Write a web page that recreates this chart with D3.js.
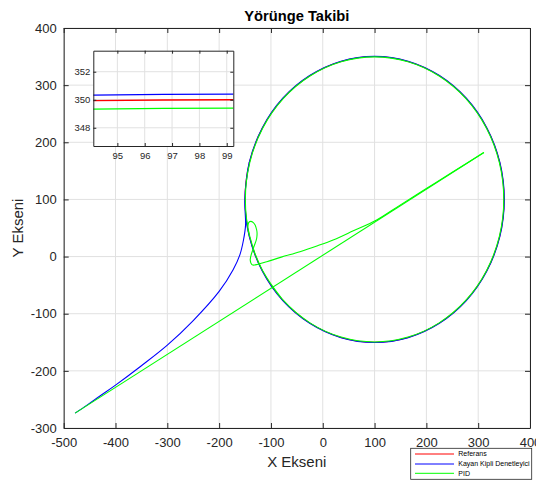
<!DOCTYPE html>
<html>
<head>
<meta charset="utf-8">
<script src="https://cdn.jsdelivr.net/npm/d3@7"></script>
<style>
  body { margin: 0; background: #fff; }
  text { font-family: "Liberation Sans", Arial, sans-serif; }
</style>
</head>
<body>
<div id="chart"></div>
<script>
// Tick labels
const xTicks = [-500, -400, -300, -200, -100, 0, 100, 200, 300, 400];
const yTicks = [-300, -200, -100, 0, 100, 200, 300, 400];
const insetXTicks = [95, 96, 97, 98, 99];
const insetYTicks = [348, 350, 352];

const seriesNames = ['Referans', 'Kayan Kipli Denetleyici', 'PID'];

// Reference circle (closed)
const refPath = [
  [350, 100], [341.5, 164.7], [316.5, 225], [276.8, 276.8], [225, 316.5], [164.7, 341.5],
  [100, 350], [35.3, 341.5], [-25, 316.5], [-76.8, 276.8], [-116.5, 225], [-141.5, 164.7],
  [-150, 100], [-141.5, 35.3], [-116.5, -25], [-76.8, -76.8], [-25, -116.5], [35.3, -141.5],
  [100, -150], [164.7, -141.5], [225, -116.5], [276.8, -76.8], [316.5, -25], [341.5, 35.3]
];

// Sliding mode controller trajectory
const smcPath = [
  [-478, -274], [-455, -260], [-430, -244], [-400, -225], [-350, -191], [-300, -155],
  [-250, -112], [-200, -61], [-173, -23], [-160, 3], [-153, 29], [-149, 55],
  [-150.4, 100], [-141.9, 164.8], [-116.8, 225.2], [-77.1, 277.1], [-25.2, 316.8], [35.2, 341.9],
  [100, 350.4], [164.8, 341.9], [225.2, 316.8], [277.1, 277.1], [316.8, 225.2], [341.9, 164.8],
  [350.4, 100], [341.9, 35.2], [316.8, -25.2], [277.1, -77.1], [225.2, -116.8], [164.8, -141.9],
  [100, -150.4], [35.2, -141.9], [-25.2, -116.8], [-77.1, -77.1], [-116.8, -25.2], [-141.9, 35.2],
  [-150.4, 100], [-141.9, 164.8]
];

// PID: initial jump, then return, loop and circle
const pidJump = [[-478, -274], [311, 182]];
const pidPath = [
  [311, 182], [250, 147.5], [200, 119], [150, 90.5], [104, 64], [59, 45], [20, 29],
  [-10, 19], [-44, 8.6], [-80, -1], [-108, -9], [-125, -13.5], [-136, -14.5], [-140, -6],
  [-134, 14.5], [-127.5, 32], [-127.5, 46.5], [-134, 59.5], [-141.5, 61], [-144.5, 49.5],
  [-138.5, 28], [-131, 5],
  [-116, -24.7], [-76.4, -76.4], [-24.7, -116], [35.5, -140.9], [100, -149.4], [164.5, -140.9],
  [224.7, -116], [276.4, -76.4], [316, -24.7], [340.9, 35.5], [349.4, 100], [340.9, 164.5],
  [316, 224.7], [276.4, 276.4], [224.7, 316], [164.5, 340.9], [100, 349.4], [35.5, 340.9],
  [-24.7, 316], [-76.4, 276.4], [-116, 224.7], [-140.9, 164.5], [-149.4, 100], [-140.9, 35.5],
  [-116, -24.7], [-76.4, -76.4]
];

const width = 536, height = 480;
const axisColor = '#262626', gridColor = '#e1e1e1';
const plain = d => String(d);

const svg = d3.select('#chart').append('svg')
  .attr('width', width)
  .attr('height', height);

const x = d3.scaleLinear().domain([-500, 400]).range([63.7, 530]);
const y = d3.scaleLinear().domain([-300, 400]).range([428, 28]);

// Grid
const grid = svg.append('g');
grid.selectAll('.gx').data(xTicks).enter().append('line')
  .attr('x1', d => x(d)).attr('x2', d => x(d))
  .attr('y1', y(-300)).attr('y2', y(400))
  .attr('stroke', gridColor).attr('stroke-width', 1);
grid.selectAll('.gy').data(yTicks).enter().append('line')
  .attr('x1', x(-500)).attr('x2', x(400))
  .attr('y1', d => y(d)).attr('y2', d => y(d))
  .attr('stroke', gridColor).attr('stroke-width', 1);

// Axes with inward ticks
function styleAxis(g, fontSize) {
  g.selectAll('path').attr('stroke', axisColor);
  g.selectAll('line').attr('stroke', axisColor);
  g.selectAll('text').attr('fill', axisColor).style('font-size', fontSize + 'px')
    .style('font-family', '"Liberation Sans", Arial, sans-serif');
}

svg.append('g').attr('transform', `translate(0,${y(-300)})`)
  .call(d3.axisBottom(x).tickValues(xTicks).tickFormat(plain).tickSize(-5).tickPadding(10).tickSizeOuter(0))
  .call(g => styleAxis(g, 13));
svg.append('g').attr('transform', `translate(0,${y(400)})`)
  .call(d3.axisTop(x).tickValues(xTicks).tickSize(-5).tickFormat('').tickSizeOuter(0))
  .call(g => styleAxis(g, 13));
svg.append('g').attr('transform', `translate(${x(-500)},0)`)
  .call(d3.axisLeft(y).tickValues(yTicks).tickFormat(plain).tickSize(-5).tickPadding(7).tickSizeOuter(0))
  .call(g => styleAxis(g, 13));
svg.append('g').attr('transform', `translate(${x(400)},0)`)
  .call(d3.axisRight(y).tickValues(yTicks).tickSize(-5).tickFormat('').tickSizeOuter(0))
  .call(g => styleAxis(g, 13));

// Line generators
const line = d3.line().x(d => x(d[0])).y(d => y(d[1])).curve(d3.curveCatmullRom);
const closedLine = d3.line().x(d => x(d[0])).y(d => y(d[1])).curve(d3.curveCatmullRomClosed);
const straight = d3.line().x(d => x(d[0])).y(d => y(d[1]));

const plot = svg.append('g');
plot.append('path').attr('d', closedLine(refPath))
  .attr('fill', 'none').attr('stroke', '#ff0000').attr('stroke-width', 1.1);
plot.append('path').attr('d', line(smcPath))
  .attr('fill', 'none').attr('stroke', '#0000ff').attr('stroke-width', 1.1);
plot.append('path').attr('d', straight(pidJump))
  .attr('fill', 'none').attr('stroke', '#00ff00').attr('stroke-width', 1.1);
plot.append('path').attr('d', line(pidPath))
  .attr('fill', 'none').attr('stroke', '#00ff00').attr('stroke-width', 1.1);

// Title and labels
svg.append('text').attr('x', 296.8).attr('y', 21)
  .attr('text-anchor', 'middle').style('font-size', '14.7px').style('font-weight', 'bold')
  .attr('fill', '#000').text('Yörünge Takibi');
svg.append('text').attr('x', 296.8).attr('y', 467)
  .attr('text-anchor', 'middle').style('font-size', '15px')
  .attr('fill', axisColor).text('X Ekseni');
svg.append('text').attr('transform', 'translate(22.5,228) rotate(-90)')
  .attr('text-anchor', 'middle').style('font-size', '15px')
  .attr('fill', axisColor).text('Y Ekseni');

// Inset zoom
const ix = d3.scaleLinear().domain([94.12, 99.24]).range([93.3, 233.3]);
const iy = d3.scaleLinear().domain([346.7, 353.5]).range([146, 50.7]);
const inset = svg.append('g');
inset.append('rect')
  .attr('x', ix.range()[0]).attr('y', iy.range()[1])
  .attr('width', ix.range()[1] - ix.range()[0]).attr('height', iy.range()[0] - iy.range()[1])
  .attr('fill', '#fff');
inset.selectAll('.igx').data(insetXTicks).enter().append('line')
  .attr('x1', d => ix(d)).attr('x2', d => ix(d))
  .attr('y1', iy.range()[0]).attr('y2', iy.range()[1])
  .attr('stroke', gridColor);
inset.selectAll('.igy').data(insetYTicks).enter().append('line')
  .attr('x1', ix.range()[0]).attr('x2', ix.range()[1])
  .attr('y1', d => iy(d)).attr('y2', d => iy(d))
  .attr('stroke', gridColor);

svg.append('clipPath').attr('id', 'insetClip').append('rect')
  .attr('x', ix.range()[0]).attr('y', iy.range()[1])
  .attr('width', ix.range()[1] - ix.range()[0]).attr('height', iy.range()[0] - iy.range()[1]);

const iline = d3.line().x(d => ix(d[0])).y(d => iy(d[1])).curve(d3.curveCatmullRom);
const iclosed = d3.line().x(d => ix(d[0])).y(d => iy(d[1])).curve(d3.curveCatmullRomClosed);
const ilines = inset.append('g').attr('clip-path', 'url(#insetClip)');
ilines.append('path').attr('d', iclosed(refPath))
  .attr('fill', 'none').attr('stroke', '#ff0000').attr('stroke-width', 1.3);
ilines.append('path').attr('d', iline(smcPath))
  .attr('fill', 'none').attr('stroke', '#0000ff').attr('stroke-width', 1.3);
ilines.append('path').attr('d', iline(pidPath))
  .attr('fill', 'none').attr('stroke', '#00ff00').attr('stroke-width', 1.3);

inset.append('g').attr('transform', `translate(0,${iy.range()[0]})`)
  .call(d3.axisBottom(ix).tickValues(insetXTicks).tickFormat(plain).tickSize(-3).tickPadding(6).tickSizeOuter(0))
  .call(g => styleAxis(g, 9.5));
inset.append('g').attr('transform', `translate(0,${iy.range()[1]})`)
  .call(d3.axisTop(ix).tickValues(insetXTicks).tickSize(-3).tickFormat('').tickSizeOuter(0))
  .call(g => styleAxis(g, 9.5));
inset.append('g').attr('transform', `translate(${ix.range()[0]},0)`)
  .call(d3.axisLeft(iy).tickValues(insetYTicks).tickFormat(plain).tickSize(-3).tickPadding(3).tickSizeOuter(0))
  .call(g => styleAxis(g, 9.5));
inset.append('g').attr('transform', `translate(${ix.range()[1]},0)`)
  .call(d3.axisRight(iy).tickValues(insetYTicks).tickSize(-3).tickFormat('').tickSizeOuter(0))
  .call(g => styleAxis(g, 9.5));

// Legend
const legendColors = ['#ff0000', '#0000ff', '#00ff00'];
const legend = svg.append('g');
legend.append('rect')
  .attr('x', 410.7).attr('y', 448.3).attr('width', 121).attr('height', 31)
  .attr('fill', '#fff').attr('stroke', axisColor).attr('stroke-width', 0.8);
const rowY = [454, 464, 473.3];
seriesNames.forEach((name, i) => {
  legend.append('line')
    .attr('x1', 415).attr('x2', 454).attr('y1', rowY[i]).attr('y2', rowY[i])
    .attr('stroke', legendColors[i]).attr('stroke-width', 1);
  legend.append('text')
    .attr('x', 458.3).attr('y', rowY[i]).attr('dy', '0.35em')
    .style('font-size', '7px').attr('fill', '#000').text(name);
});
</script>
</body>
</html>
